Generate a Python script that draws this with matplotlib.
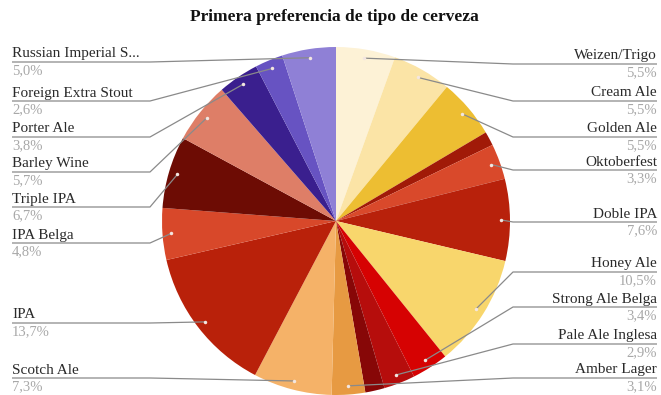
import numpy as np
import matplotlib
matplotlib.use("Agg")
import matplotlib.pyplot as plt

# slices, clockwise from 12 o'clock (blank label = slice without a label)
labels = ["Weizen/Trigo", "Cream Ale", "Golden Ale", "", "Oktoberfest",
          "Doble IPA", "Honey Ale", "Strong Ale Belga", "Pale Ale Inglesa", "",
          "Amber Lager", "Scotch Ale", "IPA", "IPA Belga", "Triple IPA",
          "Barley Wine", "Porter Ale", "Foreign Extra Stout",
          "Russian Imperial S..."]
values = [5.5, 5.5, 5.5, 1.3, 3.3, 7.6, 10.5, 3.4, 2.9, 1.8,
          3.1, 7.3, 13.7, 4.8, 6.7, 5.7, 3.8, 2.6, 5.0]
colors = ["#fdf2d6", "#fbe4a6", "#edbe32", "#a11a08", "#d9492b",
          "#b8210b", "#f8d66c", "#d60202", "#b60d0c", "#870707",
          "#e79a42", "#f5b268", "#b9210a", "#d8482a", "#6d0c04",
          "#de7e67", "#3a1f8e", "#6753c2", "#8f80d6"]

# label rows (pixel y of the rule under each name), by side
label_y = {"Weizen/Trigo": 64, "Cream Ale": 101, "Golden Ale": 137,
           "Oktoberfest": 170, "Doble IPA": 222, "Honey Ale": 272,
           "Strong Ale Belga": 307, "Pale Ale Inglesa": 344,
           "Amber Lager": 378, "Russian Imperial S...": 62,
           "Foreign Extra Stout": 101, "Porter Ale": 137,
           "Barley Wine": 172, "Triple IPA": 207, "IPA Belga": 243,
           "IPA": 323, "Scotch Ale": 378}

W, H = 661, 395
fig = plt.figure(figsize=(W / 100, H / 100), dpi=100)
ax = fig.add_axes([0, 0, 1, 1])

cx, cy, r = 336, H - 221, 174
wedges, _ = ax.pie(values, colors=colors, startangle=90, counterclock=False,
                   center=(cx, cy), radius=r, frame=True,
                   wedgeprops=dict(linewidth=0))
ax.set_xlim(0, W)
ax.set_ylim(0, H)
ax.axis("off")

font = "Liberation Serif"
for w, lab, v in zip(wedges, labels, values):
    if not lab:
        continue
    mid = np.deg2rad((w.theta1 + w.theta2) / 2)
    axx = cx + 0.95 * r * np.cos(mid)
    ayy = cy + 0.95 * r * np.sin(mid)
    ly = H - label_y[lab]
    if np.cos(mid) >= 0:
        elbow, end, ha = 513, 657, "right"
    else:
        elbow, end, ha = 150, 12, "left"
    ax.plot([axx, elbow, end], [ayy, ly, ly], color="#8a8a8a", lw=0.9,
            zorder=3, solid_capstyle="butt")
    ax.plot(axx, ayy, "o", ms=2.5, color="#f3e6e0", mec="none", zorder=4)
    ax.text(end, ly + 1.5, lab, ha=ha, va="bottom", fontsize=11,
            family=font, color="#2a2a2a")
    pct = f"{v:.1f}%".replace(".", ",")
    ax.text(end, ly - 2, pct, ha=ha, va="top", fontsize=10.5,
            family=font, color="#a8a8a8")

ax.text(W / 2 + 4, H - 17, "Primera preferencia de tipo de cerveza",
        ha="center", va="center", fontsize=12.5, fontweight="bold",
        family=font, color="#111111")

fig.savefig("out.png", dpi=100)
